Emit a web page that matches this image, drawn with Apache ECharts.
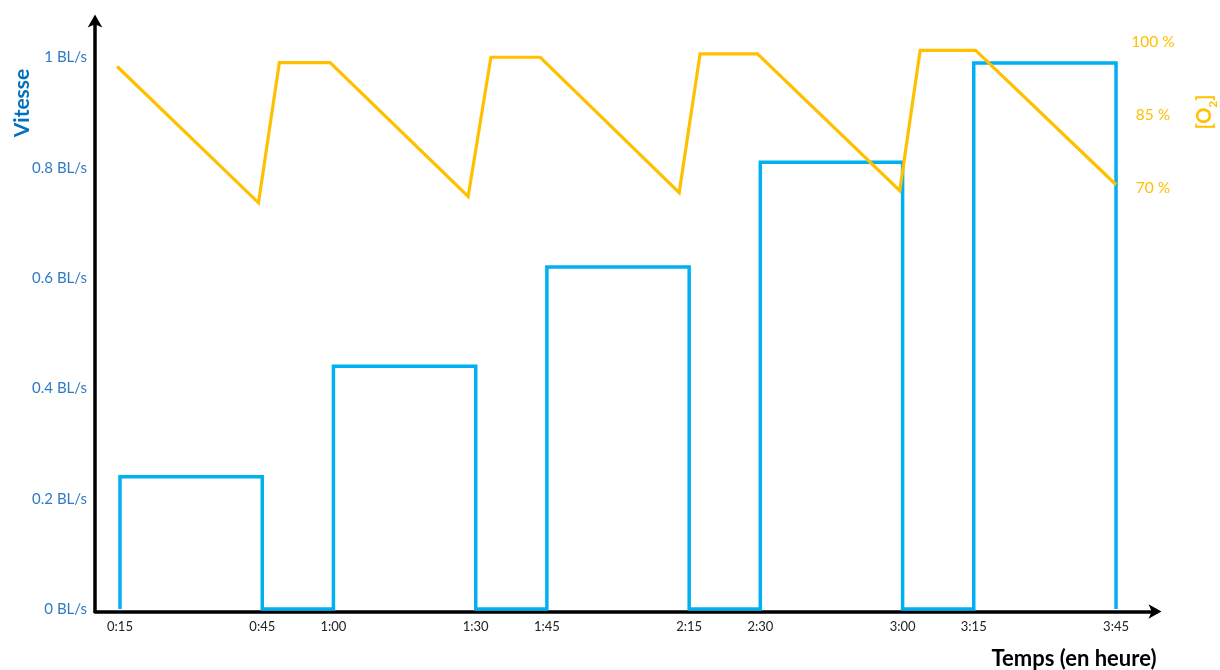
<!DOCTYPE html>
<html>
<head>
<meta charset="utf-8">
<title>Vitesse et [O2]</title>
<script src="https://cdn.jsdelivr.net/npm/echarts@6/dist/echarts.min.js"></script>
<style>
  html, body { margin: 0; padding: 0; background: #ffffff; }
  #chart { width: 1220px; height: 670px; }
</style>
</head>
<body>
<div id="chart"></div>
<script>
// Swimming speed steps: [time in minutes, speed in BL/s]
const speedTimes  = [15, 15, 45, 45, 60, 60, 90, 90, 105, 105, 135, 135, 150, 150, 180, 180, 195, 195, 225, 225];
const speedValues = [0, 0.24, 0.24, 0, 0, 0.44, 0.44, 0, 0, 0.62, 0.62, 0, 0, 0.81, 0.81, 0, 0, 0.99, 0.99, 0];

// Oxygen saturation: [time in minutes, % O2]
const oxyTimes  = [14.4, 44.2, 48.6, 59.3, 88.4, 93.2, 103.6, 132.9, 137.3, 149.4, 179.4, 183.7, 195.4, 225.0];
const oxyValues = [94.9, 66.9, 95.7, 95.7, 68.2, 96.8, 96.8, 69.0, 97.5, 97.5, 69.4, 98.2, 98.2, 70.6];

// Tick labels
const timeTicks  = [15, 45, 60, 90, 105, 135, 150, 180, 195, 225];
const speedTicks = [0, 0.2, 0.4, 0.6, 0.8, 1];
const oxyTicks   = [70, 85, 100];

const FONT = 'Lato, "Open Sans", sans-serif';
const BLUE_LINE = '#00B0F0';
const BLUE_TEXT = '#0070C0';
const ORANGE = '#FFC000';

function fmtTime(m) {
  const h = Math.floor(m / 60);
  const mm = Math.round(m - h * 60);
  return h + ':' + (mm < 10 ? '0' + mm : mm);
}

const chart = echarts.init(document.getElementById('chart'), null, { renderer: 'canvas' });

chart.setOption({
  animation: false,
  backgroundColor: '#ffffff',
  grid: { left: 95, right: 63.5, top: 19.5, bottom: 58.5, containLabel: false },
  xAxis: {
    type: 'value',
    min: 9.73,
    max: 233.53,
    splitLine: { show: false },
    axisTick: { show: false },
    axisLine: {
      show: true,
      onZero: false,
      symbol: ['none', 'arrow'],
      symbolSize: [11, 13],
      symbolOffset: [0, 5],
      lineStyle: { color: '#000000', width: 3.5 }
    },
    axisLabel: {
      customValues: timeTicks,
      formatter: v => fmtTime(v),
      color: '#222222',
      fontFamily: FONT,
      fontSize: 13,
      margin: 9
    }
  },
  yAxis: [
    {
      type: 'value',
      position: 'left',
      min: -0.00453,
      max: 1.0689,
      splitLine: { show: false },
      axisTick: { show: false },
      axisLine: {
        show: true,
        onZero: false,
        symbol: ['none', 'arrow'],
        symbolSize: [11, 13],
        symbolOffset: [0, 5],
        lineStyle: { color: '#000000', width: 3.5 }
      },
      axisLabel: {
        customValues: speedTicks,
        formatter: v => (Math.round(v * 10) / 10) + ' BL/s',
        color: '#2E7BC4',
        fontFamily: FONT,
        fontSize: 15,
        margin: 8
      }
    },
    {
      type: 'value',
      position: 'right',
      min: -17.08,
      max: 104.56,
      splitLine: { show: false },
      axisTick: { show: false },
      axisLine: { show: false },
      axisLabel: {
        customValues: oxyTicks,
        formatter: v => v + ' %',
        color: ORANGE,
        fontFamily: FONT,
        fontSize: 15.5,
        align: 'center',
        margin: -3.5
      }
    }
  ],
  series: [
    {
      name: 'Vitesse',
      type: 'line',
      yAxisIndex: 0,
      data: speedTimes.map((t, i) => [t, speedValues[i]]),
      showSymbol: false,
      lineStyle: { color: BLUE_LINE, width: 3.5, join: 'miter' },
      z: 2
    },
    {
      name: '[O2]',
      type: 'line',
      yAxisIndex: 1,
      data: oxyTimes.map((t, i) => [t, oxyValues[i]]),
      showSymbol: false,
      lineStyle: { color: ORANGE, width: 3.2, join: 'miter' },
      z: 3
    }
  ],
  graphic: [
    {
      type: 'text',
      x: 22, y: 103,
      rotation: Math.PI / 2,
      style: {
        text: 'Vitesse',
        fill: BLUE_TEXT,
        font: 'bold 21px ' + FONT,
        align: 'center',
        verticalAlign: 'middle'
      }
    },
    {
      type: 'text',
      x: 1203, y: 112,
      rotation: Math.PI / 2,
      style: {
        text: '{b|[O}{s|2}{b|]}',
        align: 'center',
        verticalAlign: 'middle',
        rich: {
          b: { fill: ORANGE, fontFamily: FONT, fontWeight: 'bold', fontSize: 20, verticalAlign: 'bottom', lineHeight: 24 },
          s: { fill: ORANGE, fontFamily: FONT, fontWeight: 'bold', fontSize: 12, verticalAlign: 'bottom', lineHeight: 24, padding: [0, 0, -4, 0] }
        }
      }
    },
    {
      type: 'text',
      x: 1074, y: 659,
      style: {
        text: 'Temps (en heure)',
        fill: '#000000',
        font: 'bold 22px ' + FONT,
        align: 'center',
        verticalAlign: 'middle'
      }
    }
  ]
});
</script>
</body>
</html>
